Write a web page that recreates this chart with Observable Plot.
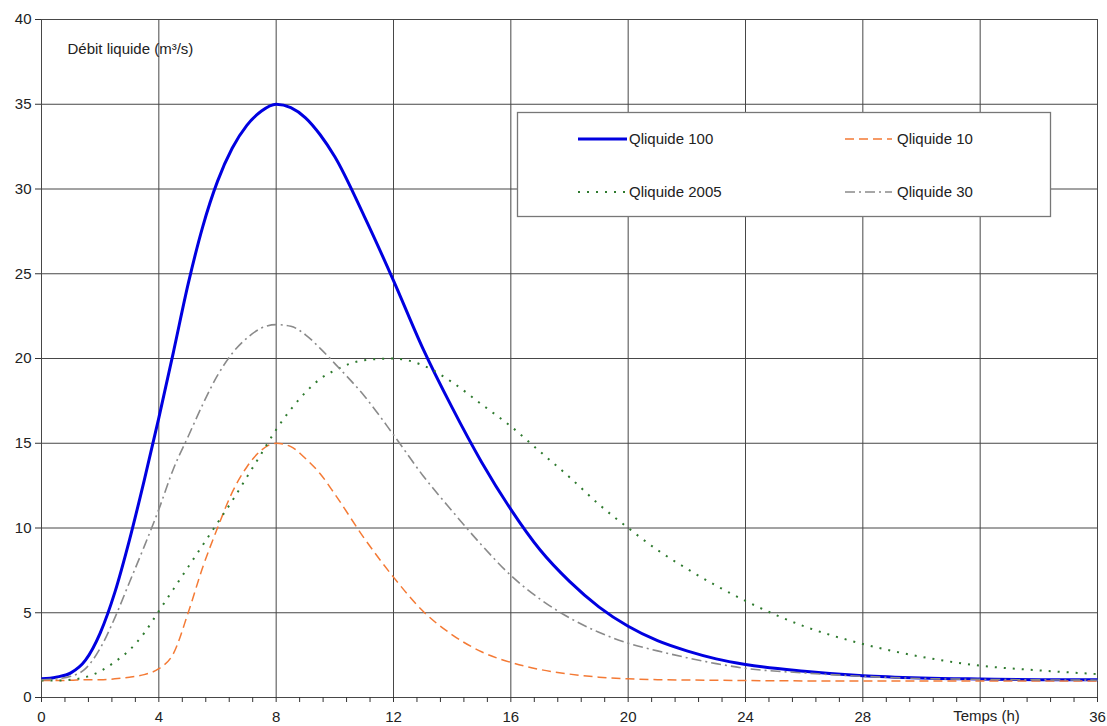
<!DOCTYPE html>
<html>
<head>
<meta charset="utf-8">
<script src="https://cdn.jsdelivr.net/npm/d3@7"></script>
<script src="https://cdn.jsdelivr.net/npm/@observablehq/plot@0.6"></script>
<style>
  html, body { margin: 0; padding: 0; background: #fff; }
  #chart { width: 1107px; height: 726px; }
</style>
</head>
<body>
<div id="chart"></div>
<script>
// ---- Data ----
const hours = [0, 0.5, 1, 1.5, 2, 2.5, 3, 3.5, 4, 4.5, 5, 5.5, 6, 6.5, 7, 7.5, 8, 8.5, 9, 9.5, 10,
               11, 12, 13, 14, 15, 16, 17, 18, 19, 20, 21, 22, 23, 24, 26, 28, 30, 32, 34, 36];
const q100  = [1.1, 1.2, 1.45, 2.2, 3.8, 6.2, 9.3, 12.8, 16.5, 20.4, 24.4, 27.8, 30.45, 32.4, 33.75, 34.6, 35.0, 34.8, 34.2, 33.2, 31.9,
               28.4, 24.6, 20.6, 17.1, 13.9, 11.1, 8.7, 6.85, 5.35, 4.2, 3.35, 2.75, 2.28, 1.95, 1.55, 1.28, 1.15, 1.09, 1.05, 1.04];
const q10   = [1.0, 1.0, 1.02, 1.05, 1.05, 1.1, 1.2, 1.35, 1.7, 2.6, 5.0, 7.7, 10.0, 12.1, 13.6, 14.6, 15.0, 14.8, 14.1, 13.2, 12.0,
               9.4, 7.1, 5.1, 3.7, 2.7, 2.07, 1.65, 1.38, 1.2, 1.1, 1.05, 1.03, 1.02, 1.0, 0.98, 0.97, 0.97, 0.98, 0.98, 0.98];
const q2005 = [1.0, 1.0, 1.05, 1.2, 1.55, 2.1, 2.8, 3.8, 5.1, 6.4, 7.7, 9.0, 10.3, 11.6, 13.0, 14.4, 15.8, 17.0, 18.0, 18.8, 19.3,
               19.9, 20.0, 19.6, 18.6, 17.3, 16.0, 14.5, 13.0, 11.4, 10.0, 8.7, 7.6, 6.6, 5.7, 4.2, 3.16, 2.4, 1.88, 1.6, 1.38];
const q30   = [1.05, 1.1, 1.25, 1.7, 2.9, 4.7, 6.8, 8.9, 11.1, 13.5, 15.4, 17.3, 19.0, 20.3, 21.2, 21.8, 22.0, 21.9, 21.4, 20.6, 19.7,
               17.8, 15.5, 13.1, 11.0, 9.0, 7.2, 5.8, 4.7, 3.85, 3.2, 2.75, 2.35, 2.0, 1.72, 1.45, 1.25, 1.12, 1.07, 1.04, 1.02];
const seriesNames = ["Qliquide 100", "Qliquide 10", "Qliquide 2005", "Qliquide 30"];
const xGridTicks = [0, 4, 8, 12, 16, 20, 24, 28, 32, 36];
const xLabelTicks = [0, 4, 8, 12, 16, 20, 24, 28, 36];
const yTicks = [0, 5, 10, 15, 20, 25, 30, 35, 40];
const yTitle = "Débit liquide (m³/s)";
const xTitle = "Temps (h)";

// ---- Styles ----
const styles = {
  "Qliquide 100":  {stroke: "#0000e0", strokeWidth: 3,   dash: null},
  "Qliquide 10":   {stroke: "#f47a35", strokeWidth: 1.5, dash: "9,5"},
  "Qliquide 2005": {stroke: "#2e7a2e", strokeWidth: 2,   dash: "2,7"},
  "Qliquide 30":   {stroke: "#8a8a8a", strokeWidth: 1.6, dash: "10,4,2,4"}
};
const valuesBy = {"Qliquide 100": q100, "Qliquide 10": q10, "Qliquide 2005": q2005, "Qliquide 30": q30};
const rows = name => hours.map((t, i) => ({t, q: valuesBy[name][i]}));
const minorTicks = d3.range(0, 46).map(i => +(i * 0.8).toFixed(2));
const font = "'Liberation Sans', Arial, sans-serif";
const gridColor = "#474747";

const lineMarks = seriesNames.map(name => Plot.line(rows(name), {
  x: "t", y: "q", curve: "monotone-x",
  stroke: styles[name].stroke, strokeWidth: styles[name].strokeWidth,
  strokeDasharray: styles[name].dash, strokeLinecap: "butt"
}));

const chart = Plot.plot({
  width: 1107, height: 726,
  marginLeft: 41, marginRight: 10, marginTop: 19, marginBottom: 29,
  style: {fontFamily: font, fontSize: "15px", color: "#222", background: "#fff"},
  x: {domain: [0, 36]},
  y: {domain: [0, 40]},
  marks: [
    Plot.gridX({ticks: xGridTicks, stroke: gridColor, strokeOpacity: 1, strokeWidth: 1}),
    Plot.gridY({ticks: yTicks, stroke: gridColor, strokeOpacity: 1, strokeWidth: 1}),
    Plot.axisY({ticks: yTicks, tickSize: 6, tickPadding: 4, label: null, fontSize: 15, stroke: "#333"}),
    Plot.axisX({ticks: minorTicks, tickSize: 5, tickFormat: () => "", label: null, stroke: "#333"}),
    Plot.axisX({ticks: xLabelTicks, tickSize: 0, tickPadding: 14, label: null, fontSize: 15}),
    ...lineMarks,
    Plot.text([yTitle], {frameAnchor: "top-left", dx: 26, dy: 30, textAnchor: "start", lineAnchor: "middle", fontSize: 15, fill: "#222"}),
    Plot.text([xTitle], {frameAnchor: "bottom", dx: 417, dy: 19, textAnchor: "middle", lineAnchor: "middle", fontSize: 15, fill: "#222"})
  ]
});

// ---- Legend box (layout overlay) ----
const svg = d3.select(chart);
const lg = svg.append("g").attr("font-family", font).attr("font-size", 15).attr("text-anchor", "start");
lg.append("rect").attr("x", 517.5).attr("y", 112.5).attr("width", 533).attr("height", 104)
  .attr("fill", "#fff").attr("stroke", "#777").attr("stroke-width", 1.3);
const legendLayout = [
  {name: "Qliquide 100",  x0: 578, x1: 627, tx: 629, y: 139},
  {name: "Qliquide 10",   x0: 845, x1: 892, tx: 897, y: 139},
  {name: "Qliquide 2005", x0: 578, x1: 627, tx: 629, y: 192},
  {name: "Qliquide 30",   x0: 845, x1: 892, tx: 897, y: 192}
];
legendLayout.forEach(d => {
  const s = styles[d.name];
  lg.append("line").attr("x1", d.x0).attr("x2", d.x1).attr("y1", d.y).attr("y2", d.y)
    .attr("stroke", s.stroke).attr("stroke-width", s.strokeWidth)
    .attr("stroke-dasharray", s.dash);
  lg.append("text").attr("x", d.tx).attr("y", d.y).attr("dy", "0.35em")
    .attr("text-anchor", "start").attr("fill", "#222").text(d.name);
});

document.getElementById("chart").appendChild(chart);
</script>
</body>
</html>
